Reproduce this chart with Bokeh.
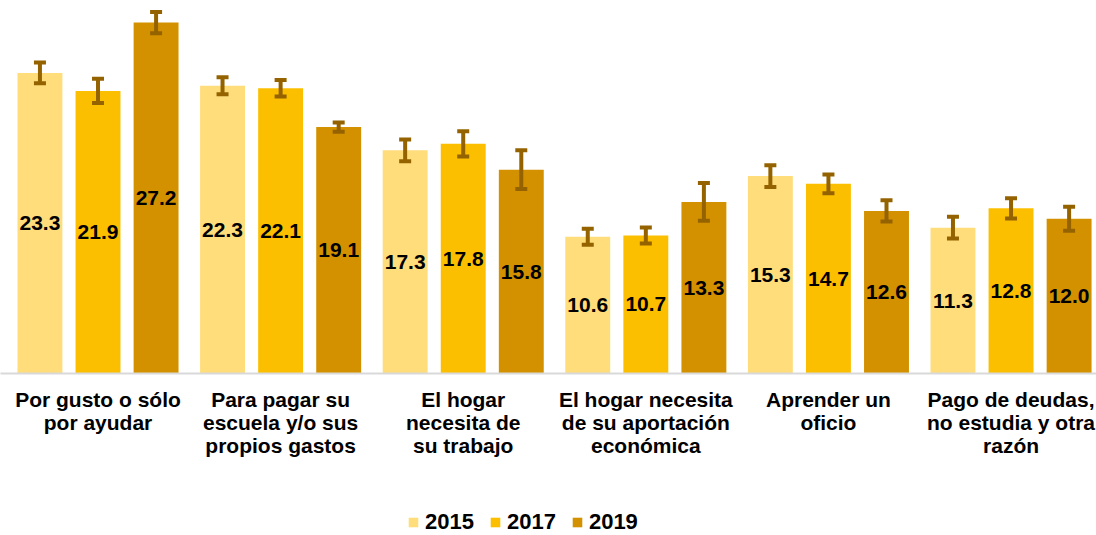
from bokeh.plotting import figure
from bokeh.layouts import column
from bokeh.models import (ColumnDataSource, Range1d, FixedTicker, Legend, LegendItem)
from bokeh.core.properties import value
from bokeh.embed import file_html
from bokeh.resources import INLINE

categories = [
    "Por gusto o sólo\npor ayudar",
    "Para pagar su\nescuela y/o sus\npropios gastos",
    "El hogar\nnecesita de\nsu trabajo",
    "El hogar necesita\nde su aportación\neconómica",
    "Aprender un\noficio",
    "Pago de deudas,\nno estudia y otra\nrazón",
]
years = ["2015", "2017", "2019"]
v2015 = [23.3, 22.3, 17.3, 10.6, 15.3, 11.3]
v2017 = [21.9, 22.1, 17.8, 10.7, 14.7, 12.8]
v2019 = [27.2, 19.1, 15.8, 13.3, 12.6, 12.0]
e2015 = [0.80, 0.66, 0.84, 0.62, 0.84, 0.84]
e2017 = [0.94, 0.64, 0.98, 0.62, 0.72, 0.78]
e2019 = [0.82, 0.36, 1.50, 1.47, 0.82, 0.93]

colors = ["#FFDD7A", "#FBBF00", "#D39100"]
err_color = "#946300"
FONT = "Liberation Sans"

p = figure(width=1096, height=470, output_backend="svg", toolbar_location=None,
           x_range=Range1d(-0.534, 5.468), y_range=Range1d(0, 28.91),
           min_border_left=0, min_border_right=0, min_border_top=0,
           min_border_bottom=97)
p.outline_line_color = None
p.xgrid.visible = False
p.ygrid.visible = False
p.yaxis.visible = False

# legend strip (separate figure so the legend can sit freely at the bottom)
lf = figure(width=1096, height=65, output_backend="svg", toolbar_location=None,
            x_range=Range1d(100, 101), y_range=Range1d(100, 101),
            min_border_left=0, min_border_right=0, min_border_top=0, min_border_bottom=0)
lf.outline_line_color = None
lf.xgrid.visible = False
lf.ygrid.visible = False
lf.xaxis.visible = False
lf.yaxis.visible = False

offsets = [-0.318, 0.0, 0.318]
bar_w = 0.246
leg_renderers = []
for vals, errs, off, col in zip([v2015, v2017, v2019], [e2015, e2017, e2019], offsets, colors):
    xs = [i + off for i in range(len(vals))]
    src = ColumnDataSource(dict(
        x=xs, top=vals, mid=[v / 2 for v in vals],
        lo=[v - e for v, e in zip(vals, errs)], hi=[v + e for v, e in zip(vals, errs)],
        lab=[f"{v:.1f}" for v in vals]))
    p.vbar(x="x", top="top", width=bar_w, bottom=0, source=src,
           fill_color=col, line_color=None)
    p.segment(x0="x", y0="lo", x1="x", y1="hi", source=src,
              line_color=err_color, line_width=4, line_cap="butt")
    p.rect(x="x", y="hi", width=12, height=4, width_units="screen", height_units="screen",
           source=src, fill_color=err_color, line_color=None)
    p.rect(x="x", y="lo", width=12, height=4, width_units="screen", height_units="screen",
           source=src, fill_color=err_color, line_color=None)
    p.text(x="x", y="mid", text="lab", source=src, text_align="center",
           text_baseline="middle", text_font=value(FONT), text_font_style="bold",
           text_font_size="21px", text_color="black")
    # same bars in the legend strip, outside its visible range: only used as legend swatches
    leg_renderers.append(lf.vbar(x="x", top="top", width=bar_w, bottom=0, source=src,
                                 fill_color=col, line_color=None))

xa = p.xaxis[0]
xa.ticker = FixedTicker(ticks=list(range(len(categories))))
xa.major_label_overrides = {i: c for i, c in enumerate(categories)}
xa.major_tick_line_color = None
xa.minor_tick_line_color = None
xa.axis_line_color = "#D9D9D9"
xa.axis_line_width = 2
xa.major_label_standoff = 8
xa.major_label_text_font = FONT
xa.major_label_text_font_style = "bold"
xa.major_label_text_font_size = "21px"
xa.major_label_text_line_height = 1.0
xa.major_label_text_color = "black"

legend = Legend(items=[LegendItem(label=y, renderers=[r]) for y, r in zip(years, leg_renderers)],
                orientation="horizontal", location=(407, 0),
                glyph_width=12, glyph_height=12, label_standoff=6, spacing=15,
                padding=0, margin=0, border_line_color=None, background_fill_alpha=0,
                label_text_font=FONT, label_text_font_style="bold",
                label_text_font_size="22px", label_text_color="black")
lf.add_layout(legend, "center")

open("out.html", "w").write(file_html(column(p, lf, spacing=0), INLINE))
